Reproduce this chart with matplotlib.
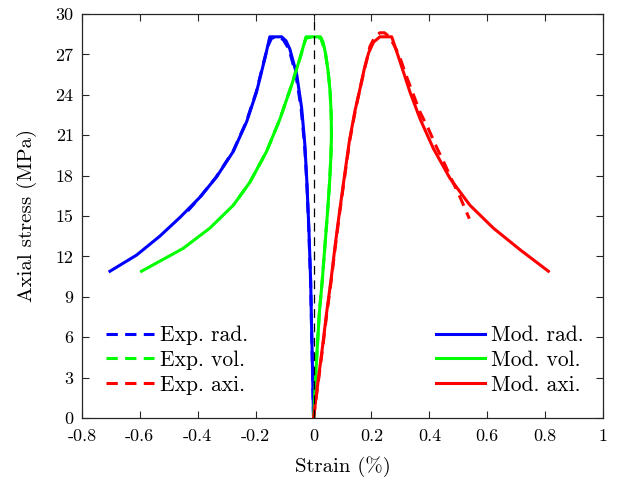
import matplotlib
matplotlib.use('Agg')
import matplotlib.pyplot as plt

# model curves (strain %, stress MPa)
mod_rad_x = [-0.703, -0.611, -0.531, -0.461, -0.392, -0.335, -0.277, -0.231, -0.197, -0.168,
             -0.151, -0.110, -0.095, -0.082, -0.058, -0.041, -0.030, -0.023, -0.016, -0.010,
             -0.0065, -0.003, 0.0]
mod_rad_y = [10.9, 12.1, 13.5, 14.9, 16.4, 17.9, 19.8, 22.0, 24.2, 26.7,
             28.3, 28.3, 28.0, 27.4, 25.5, 23.0, 20.3, 17.5, 14.0, 10.2,
             6.5, 3.0, 0.0]

mod_vol_x = [-0.594, -0.450, -0.358, -0.277, -0.220, -0.162, -0.116, -0.076, -0.047, -0.026,
             0.024, 0.033, 0.042, 0.050, 0.057, 0.061, 0.062, 0.060, 0.056, 0.048,
             0.039, 0.030, 0.020, 0.013, 0.006, 0.0]
mod_vol_y = [10.9, 12.6, 14.1, 15.8, 17.5, 19.8, 22.2, 24.7, 26.7, 28.3,
             28.3, 27.9, 27.0, 25.8, 24.3, 22.5, 21.0, 19.5, 17.7, 15.2,
             12.7, 10.2, 7.8, 5.3, 2.6, 0.0]

mod_axi_x = [0.0, 0.016, 0.031, 0.045, 0.060, 0.074, 0.089, 0.105, 0.124, 0.143,
             0.160, 0.175, 0.190, 0.207, 0.229, 0.270, 0.298, 0.333, 0.368, 0.414,
             0.471, 0.540, 0.621, 0.713, 0.811]
mod_axi_y = [0.0, 2.8, 5.3, 7.8, 10.2, 12.7, 15.2, 17.7, 20.6, 22.8,
             24.4, 25.9, 27.1, 27.9, 28.3, 28.3, 26.5, 24.2, 22.2, 20.0,
             17.8, 15.8, 14.1, 12.5, 10.9]

# experimental curves
exp_rad_x = [0.0, -0.003, -0.0065, -0.010, -0.016, -0.023, -0.031, -0.043, -0.061, -0.085,
             -0.105, -0.125, -0.145, -0.158, -0.170, -0.198, -0.232, -0.278, -0.336, -0.392,
             -0.450]
exp_rad_y = [0.0, 2.8, 6.4, 10.0, 13.8, 17.4, 20.3, 23.0, 25.5, 27.4,
             28.1, 28.3, 28.2, 27.6, 26.6, 24.2, 22.0, 19.8, 17.9, 16.4,
             15.0]

exp_vol_x = [0.0, 0.006, 0.013, 0.020, 0.030, 0.039, 0.048, 0.056, 0.060, 0.062,
             0.061, 0.057, 0.050, 0.040, 0.025, 0.0, -0.026, -0.047, -0.076, -0.116,
             -0.162, -0.220, -0.277]
exp_vol_y = [0.0, 2.6, 5.3, 7.8, 10.2, 12.7, 15.2, 17.7, 19.5, 21.0,
             22.5, 24.3, 25.8, 27.2, 28.2, 28.3, 28.2, 26.7, 24.7, 22.2,
             19.8, 17.5, 15.8]

exp_axi_x = [0.0, 0.017, 0.032, 0.046, 0.061, 0.075, 0.090, 0.106, 0.125, 0.144,
             0.161, 0.177, 0.195, 0.212, 0.229, 0.245, 0.262, 0.280, 0.296, 0.322,
             0.345, 0.368, 0.396, 0.425, 0.454, 0.477, 0.506, 0.520, 0.538]
exp_axi_y = [0.0, 2.8, 5.3, 7.8, 10.2, 12.7, 15.2, 17.7, 20.6, 22.8,
             24.5, 26.0, 27.6, 28.3, 28.6, 28.6, 28.3, 27.6, 26.9, 25.3,
             24.0, 22.7, 21.5, 20.1, 18.8, 17.7, 16.4, 15.7, 14.8]

x_ticks = [-0.8, -0.6, -0.4, -0.2, 0, 0.2, 0.4, 0.6, 0.8, 1]
x_tick_labels = ['-0.8', '-0.6', '-0.4', '-0.2', '0', '0.2', '0.4', '0.6', '0.8', '1']
y_ticks = [0, 3, 6, 9, 12, 15, 18, 21, 24, 27, 30]

plt.rcParams['font.family'] = 'cmr10'
plt.rcParams['axes.unicode_minus'] = False
plt.rcParams['mathtext.fontset'] = 'cm'

fig = plt.figure(figsize=(6.25, 4.8), dpi=100)
ax = fig.add_axes([0.131, 0.129, 0.834, 0.842])

lw = 2.2
dash = (3.7, 2.4)
e1, = ax.plot(exp_rad_x, exp_rad_y, '--', color='#0000ff', lw=lw, dashes=dash)
e2, = ax.plot(exp_vol_x, exp_vol_y, '--', color='#00ff00', lw=lw, dashes=dash)
e3, = ax.plot(exp_axi_x, exp_axi_y, '--', color='#ff0000', lw=lw, dashes=dash)
m1, = ax.plot(mod_rad_x, mod_rad_y, '-', color='#0000ff', lw=lw)
m2, = ax.plot(mod_vol_x, mod_vol_y, '-', color='#00ff00', lw=lw)
m3, = ax.plot(mod_axi_x, mod_axi_y, '-', color='#ff0000', lw=lw)
ax.plot([0, 0], [0, 30], '--', color='black', lw=0.9, dashes=(7, 4.5))

ax.set_xlim(-0.8, 1)
ax.set_ylim(0, 30)
ax.set_xticks(x_ticks)
ax.set_xticklabels(x_tick_labels)
ax.set_yticks(y_ticks)
ax.tick_params(direction='in', top=True, right=True, length=5, width=0.8,
               labelsize=13, colors='#262626', labelcolor='black')
ax.tick_params(axis='x', pad=7.5)
ax.tick_params(axis='y', pad=6)
for s in ax.spines.values():
    s.set_color('#262626')
    s.set_linewidth(0.9)

ax.set_xlabel('Strain (%)', fontsize=15, labelpad=9)
ax.set_ylabel('Axial stress (MPa)', fontsize=15, labelpad=13)

leg_kw = dict(frameon=False, fontsize=15.5, handlelength=2.25, handletextpad=0.28,
              labelspacing=0.24, borderaxespad=0, borderpad=0)
leg1 = ax.legend([e1, e2, e3], ['Exp. rad.', 'Exp. vol.', 'Exp. axi.'],
                 loc='lower left', bbox_to_anchor=(0.046, 0.058), **leg_kw)
ax.add_artist(leg1)
ax.legend([m1, m2, m3], ['Mod. rad.', 'Mod. vol.', 'Mod. axi.'],
          loc='lower right', bbox_to_anchor=(0.962, 0.058), **leg_kw)

fig.savefig('out.png', dpi=100)
